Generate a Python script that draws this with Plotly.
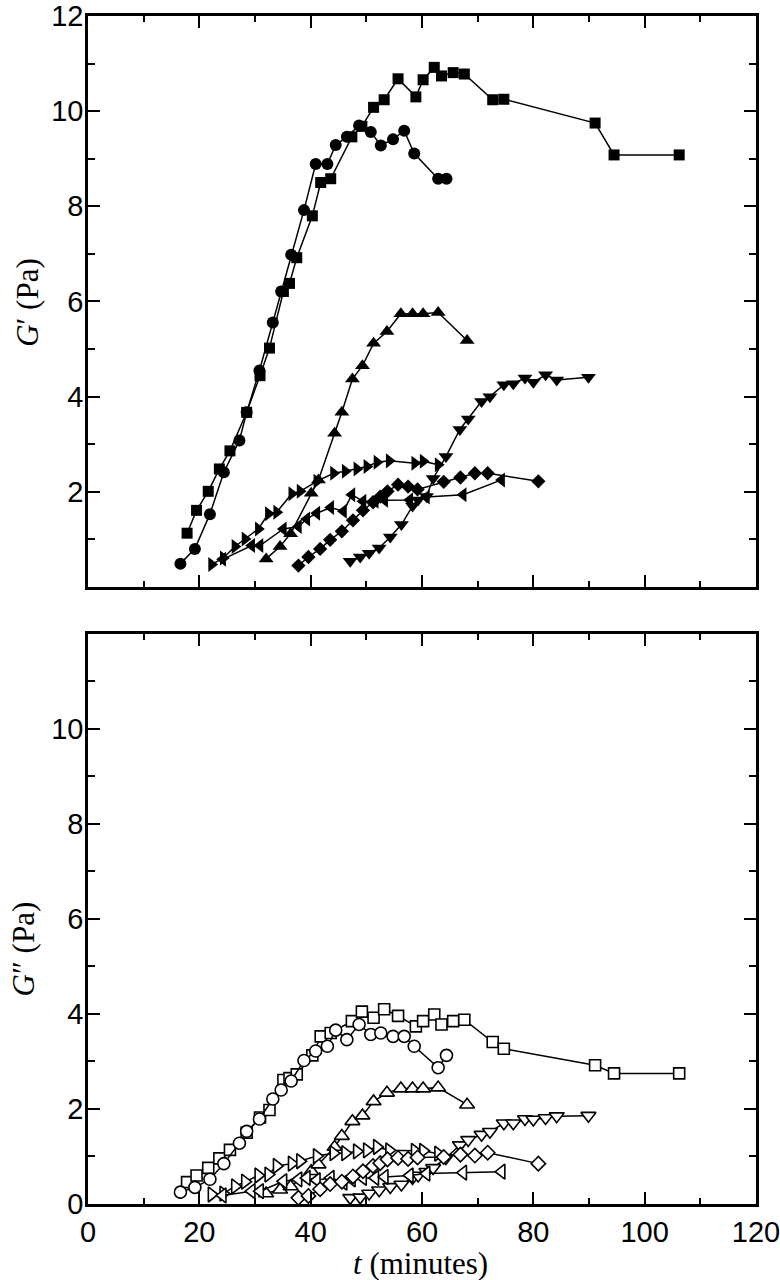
import plotly.graph_objects as go

# ---------------- data (t in minutes, G' and G'' in Pa) ----------------
sq_t = [17.8, 19.5, 21.6, 23.6, 25.5, 28.5, 30.9, 32.6, 35.1, 36.2, 37.5, 40.3, 41.8, 43.6, 47.4, 49.2,
        51.3, 53.2, 55.7, 58.9, 60.2, 62.2, 63.5, 65.6, 67.6, 72.7, 74.7, 91.1, 94.5, 106.2]
sq_G1 = [1.13, 1.61, 2.01, 2.48, 2.86, 3.67, 4.44, 5.02, 6.21, 6.38, 6.92, 7.80, 8.50, 8.58, 9.46, 9.68,
         10.08, 10.24, 10.68, 10.30, 10.66, 10.92, 10.74, 10.81, 10.78, 10.24, 10.25, 9.75, 9.08, 9.08]
sq_G2 = [0.46, 0.60, 0.76, 0.96, 1.14, 1.50, 1.82, 1.98, 2.61, 2.65, 2.73, 3.13, 3.53, 3.60, 3.85, 4.05,
         3.92, 4.10, 3.96, 3.74, 3.85, 3.99, 3.78, 3.85, 3.88, 3.41, 3.27, 2.92, 2.75, 2.75]

ci_t = [16.6, 19.2, 21.9, 24.4, 27.2, 28.5, 30.8, 33.2, 34.7, 36.5, 38.8, 40.9, 43.0, 44.5, 46.5, 48.7,
        50.8, 52.6, 54.8, 56.8, 58.6, 62.9, 64.4]
ci_G1 = [0.49, 0.80, 1.53, 2.41, 3.08, 3.67, 4.55, 5.56, 6.21, 6.98, 7.92, 8.89, 8.89, 9.29, 9.46, 9.70,
         9.56, 9.28, 9.41, 9.59, 9.11, 8.58, 8.58]
ci_G2 = [0.25, 0.35, 0.52, 0.85, 1.28, 1.53, 1.79, 2.21, 2.40, 2.59, 3.02, 3.22, 3.32, 3.66, 3.46, 3.78,
         3.57, 3.60, 3.53, 3.53, 3.32, 2.87, 3.13]

up_t = [32.0, 34.5, 36.4, 40.1, 41.4, 44.3, 45.6, 47.5, 49.3, 51.3, 53.7, 56.2, 58.3, 60.2, 62.9, 68.1]
up_G1 = [0.59, 0.85, 1.12, 1.97, 2.25, 3.23, 3.67, 4.37, 4.65, 5.12, 5.37, 5.74, 5.74, 5.74, 5.77, 5.18]
up_G2 = [0.22, 0.30, 0.37, 0.69, 0.83, 1.20, 1.43, 1.74, 1.86, 2.16, 2.34, 2.43, 2.43, 2.43, 2.45, 2.09]

dn_t = [47.1, 48.9, 50.5, 52.3, 54.3, 56.3, 58.3, 59.3, 60.8, 62.0, 64.3, 66.8, 68.3, 70.7, 72.2, 74.7,
        76.4, 78.5, 80.0, 82.2, 84.2, 89.9]
dn_G1 = [0.54, 0.63, 0.71, 0.82, 1.05, 1.31, 1.70, 1.83, 1.90, 2.28, 2.74, 3.31, 3.53, 3.90, 4.00, 4.25,
         4.27, 4.39, 4.30, 4.46, 4.35, 4.41]
dn_G2 = [0.13, 0.14, 0.22, 0.29, 0.36, 0.41, 0.55, 0.60, 0.68, 0.76, 0.97, 1.24, 1.35, 1.46, 1.52, 1.70,
         1.70, 1.79, 1.78, 1.81, 1.85, 1.86]

rt_t = [22.2, 24.3, 26.4, 28.2, 30.6, 32.4, 33.9, 36.6, 38.1, 41.1, 44.1, 46.2, 48.3, 50.1, 51.9, 54.1,
        58.7, 60.2, 62.9]
rt_G1 = [0.47, 0.61, 0.85, 1.01, 1.22, 1.54, 1.57, 1.96, 2.01, 2.22, 2.39, 2.43, 2.48, 2.53, 2.62, 2.65,
         2.60, 2.64, 2.57]
rt_G2 = [0.20, 0.22, 0.37, 0.47, 0.60, 0.62, 0.80, 0.85, 0.90, 1.01, 1.07, 1.07, 1.11, 1.13, 1.20, 1.13,
         1.12, 1.12, 1.06]

lt_t = [24.2, 29.4, 30.9, 35.1, 37.8, 39.3, 41.1, 43.6, 45.9, 47.4, 49.4, 51.6, 53.3, 57.8, 60.8, 67.4, 74.3]
lt_G1 = [0.58, 0.87, 0.87, 1.22, 1.27, 1.43, 1.55, 1.67, 1.59, 1.94, 1.80, 1.80, 1.82, 1.83, 1.89, 1.94, 2.25]
lt_G2 = [0.18, 0.27, 0.27, 0.48, 0.52, 0.55, 0.50, 0.55, 0.45, 0.52, 0.55, 0.55, 0.57, 0.60, 0.64, 0.66, 0.68]

di_t = [37.8, 39.6, 41.7, 43.5, 45.6, 47.6, 49.4, 51.2, 52.5, 53.8, 55.7, 57.5, 59.2, 63.9, 66.9, 69.5,
        71.8, 80.9]
di_G1 = [0.45, 0.63, 0.80, 0.99, 1.17, 1.40, 1.61, 1.78, 1.90, 2.01, 2.15, 2.11, 2.05, 2.21, 2.30, 2.39,
         2.39, 2.22]
di_G2 = [0.13, 0.17, 0.31, 0.42, 0.47, 0.58, 0.69, 0.80, 0.86, 0.94, 0.97, 0.95, 0.98, 0.99, 1.04, 1.02,
         1.08, 0.85]

x_ticks = [0, 20, 40, 60, 80, 100, 120]
top_y_ticks = [2, 4, 6, 8, 10, 12]
bot_y_ticks = [0, 2, 4, 6, 8, 10]

series = [
    (sq_t, sq_G1, sq_G2, "square", 11),
    (ci_t, ci_G1, ci_G2, "circle", 12),
    (up_t, up_G1, up_G2, "triangle-up", 13),
    (dn_t, dn_G1, dn_G2, "triangle-down", 13),
    (rt_t, rt_G1, rt_G2, "triangle-right", 13),
    (lt_t, lt_G1, lt_G2, "triangle-left", 13),
    (di_t, di_G1, di_G2, "diamond", 11),
]

fig = go.Figure()
for t, g1, g2, sym, sz in series:
    fig.add_trace(go.Scatter(
        x=t, y=g1, xaxis="x2", yaxis="y2", mode="lines+markers",
        line=dict(color="black", width=1.5),
        marker=dict(symbol=sym, size=sz, color="black", line=dict(width=0)),
        showlegend=False, hoverinfo="skip", cliponaxis=False))
    fig.add_trace(go.Scatter(
        x=t, y=g2, xaxis="x", yaxis="y", mode="lines+markers",
        line=dict(color="black", width=1.5),
        marker=dict(symbol=sym, size=sz, color="white", line=dict(width=1.6, color="black")),
        showlegend=False, hoverinfo="skip", cliponaxis=False))

tick_font = dict(family="Liberation Sans, Arial, sans-serif", size=29, color="black")
common_x = dict(range=[0, 120], showline=True, linewidth=2.5, linecolor="black", mirror="ticks",
                ticks="inside", ticklen=12, tickwidth=2, tickcolor="black", showgrid=False, zeroline=False,
                tickmode="array", tickvals=x_ticks, automargin=False, ticklabeloverflow="allow",
                minor=dict(tickmode="linear", tick0=0, dtick=10, ticks="inside", ticklen=6,
                           tickwidth=2, tickcolor="black", showgrid=False),
                tickfont=tick_font)
common_y = dict(range=[0, 12], showline=True, linewidth=2.5, linecolor="black", mirror="ticks",
                ticks="inside", ticklen=12, tickwidth=2, tickcolor="black", showgrid=False, zeroline=False,
                tickmode="array", automargin=False, ticklabeloverflow="allow", ticklabelstandoff=-4,
                minor=dict(tickmode="linear", tick0=0, dtick=1, ticks="inside", ticklen=7,
                           tickwidth=2, tickcolor="black", showgrid=False),
                tickfont=tick_font)

fig.update_layout(
    width=780, height=1280,
    margin=dict(l=88, r=24, t=16, b=76, autoexpand=False),
    paper_bgcolor="white", plot_bgcolor="white",
    xaxis=dict(common_x, domain=[0, 1], anchor="y", showticklabels=True),
    yaxis=dict(common_y, domain=[0, 0.4798], anchor="x", tickvals=bot_y_ticks,
               ticktext=[str(v) for v in bot_y_ticks]),
    xaxis2=dict(common_x, domain=[0, 1], anchor="y2", showticklabels=False),
    yaxis2=dict(common_y, domain=[0.5194, 1], anchor="x2", tickvals=top_y_ticks,
                ticktext=[str(v) for v in top_y_ticks]),
)

title_font = dict(family="Liberation Serif, Times New Roman, serif", size=31, color="black")
fig.add_annotation(text="<i>G</i>′ (Pa)", xref="paper", yref="paper", x=-0.09, y=0.7593,
                   textangle=-90, showarrow=False, font=title_font, xanchor="center", yanchor="middle")
fig.add_annotation(text="<i>G</i>″ (Pa)", xref="paper", yref="paper", x=-0.096, y=0.215,
                   textangle=-90, showarrow=False, font=title_font, xanchor="center", yanchor="middle")
fig.add_annotation(text="<i>t</i> (minutes)", xref="paper", yref="paper", x=0.4985, y=-0.0505,
                   showarrow=False, font=title_font, xanchor="center", yanchor="middle")

fig.write_html("out.html", config={"displayModeBar": False},
               post_script="document.body.style.margin='0';document.body.style.padding='0';")
